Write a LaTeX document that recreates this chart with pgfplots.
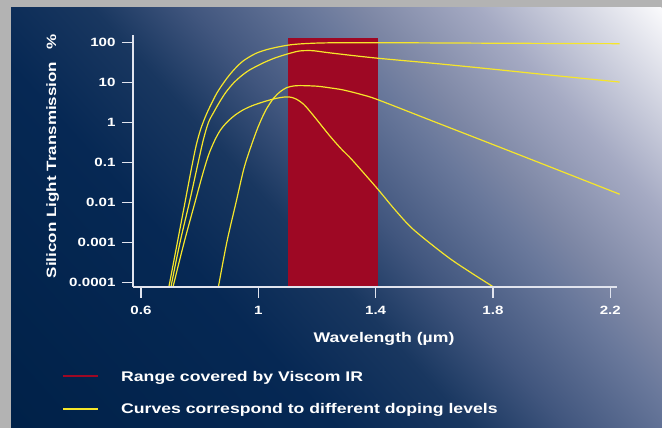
\documentclass[border=0pt]{standalone}
\usepackage{fontspec}
\setmainfont{Liberation Sans}[FakeStretch=1.26]
\usepackage{pgfplots}
\pgfplotsset{compat=1.18}

\definecolor{graybd}{RGB}{179,179,179}
\definecolor{bgA}{RGB}{0,33,72}
\definecolor{bgB}{RGB}{6,40,84}
\definecolor{bgC}{RGB}{25,55,96}
\definecolor{bgI}{RGB}{65,86,126}
\definecolor{bgE}{RGB}{105,120,155}
\definecolor{bgF}{RGB}{125,135,165}
\definecolor{bgG}{RGB}{165,170,195}
\definecolor{bgH}{RGB}{250,250,252}
\definecolor{viscomred}{RGB}{158,8,36}
\definecolor{curveyellow}{RGB}{246,230,42}
\definecolor{axiscol}{RGB}{225,228,238}

\pgfdeclarehorizontalshading{bgshade}{100bp}{color(0bp)=(bgA); color(25bp)=(bgA); color(40.8bp)=(bgB); color(47.35bp)=(bgC); color(52.06bp)=(bgI); color(57.8bp)=(bgE); color(60.4bp)=(bgF); color(66bp)=(bgG); color(75bp)=(bgH); color(100bp)=(bgH)}

\begin{document}
\begin{tikzpicture}
\useasboundingbox (0bp,0bp) rectangle (662bp,428bp);
\fill[graybd] (0bp,0bp) rectangle (662bp,428bp);
\begin{scope}
\clip (11bp,0bp) rectangle (662bp,420bp);
\begin{scope}[transform canvas={rotate around={42:(336.5bp,210bp)}}]
\shade[shading=bgshade] (-45.8bp,-170bp) rectangle (718.8bp,590bp);
\end{scope}
\end{scope}

\begin{axis}[
  at={(133bp,141bp)}, anchor=south west,
  scale only axis, width=484bp, height=252.3bp,
  xmin=0.5727, xmax=2.2229,
  ymode=log, ymin=7.67e-5, ymax=155.8,
  axis x line*=bottom, axis y line*=left,
  axis line style={line width=1.3bp, color=axiscol},
  every tick/.style={line width=1.3bp, color=axiscol},
  tick align=outside, major tick length=11bp,
  xtick={0.6,1,1.4,1.8,2.2}, xticklabels={0.6,1,1.4,1.8,2.2},
  ytick={1e-4,1e-3,0.01,0.1,1,10,100},
  yticklabels={0.0001,0.001,0.01,0.1,1,10,100},
  yminorticks=false, xminorticks=false,
  tick label style={font=\fontsize{12bp}{14bp}\selectfont\bfseries, text=white},
  xticklabel style={yshift=-5bp},
  yticklabel style={xshift=-3bp},
  clip=false, axis on top,
]
\addplot[draw=none, fill=viscomred] coordinates {(1.1017,7.67e-5) (1.1017,131) (1.409,131) (1.409,7.67e-5)} -- cycle;

% curve A
\addplot[curveyellow, line width=1.2bp, smooth] coordinates {
(0.695,7.67e-5) (0.724,0.001) (0.750,0.01) (0.772,0.0708) (0.788,0.263) (0.803,0.661) (0.82,1.413) (0.8355,2.512) (0.86,5.62) (0.8925,12.59) (0.92,21.9) (0.949,34.7) (0.99,52.5) (1.029,66.1) (1.07,77.6) (1.11,87.1) (1.16,93.3) (1.25,97.7) (1.5,97.7) (1.8,95.5) (2.232,92.9)};
% curve B
\addplot[curveyellow, line width=1.2bp, smooth] coordinates {
(0.702,7.67e-5) (0.733,0.001) (0.765,0.01) (0.792,0.0794) (0.812,0.355) (0.83,1) (0.85,1.905) (0.8696,3.39) (0.89,5.75) (0.915,9.55) (0.94,14.1) (0.97,20.4) (1.0174,30.9) (1.06,41.7) (1.1085,53.7) (1.14,61.0) (1.165,62.4) (1.19,61.7) (1.248,54.3) (1.4,40.7) (1.6,29.9) (1.8,21.4) (2.0,15.1) (2.232,10.2)};
% curve C
\addplot[curveyellow, line width=1.2bp, smooth] coordinates {
(0.709,7.67e-5) (0.747,0.001) (0.784,0.01) (0.81,0.0501) (0.83,0.151) (0.85,0.339) (0.87,0.631) (0.8925,1.0) (0.92,1.51) (0.95,2.09) (0.98,2.63) (1.02,3.31) (1.06,3.98) (1.09,4.315) (1.11,4.27) (1.13,3.80) (1.155,2.82) (1.188,1.479) (1.245,0.447) (1.285,0.209) (1.32,0.115) (1.404,0.0229) (1.4665,0.00646) (1.529,0.00209) (1.643,0.000447) (1.7225,0.000180) (1.802,7.67e-5)};
% curve D
\addplot[curveyellow, line width=1.2bp, smooth] coordinates {
(0.8638,7.67e-5) (0.8925,0.001) (0.924,0.01) (0.951,0.0708) (0.975,0.251) (1.0,0.794) (1.025,1.995) (1.0515,3.98) (1.075,5.89) (1.097,7.41) (1.12,8.13) (1.143,8.32) (1.2,8.04) (1.248,7.24) (1.29,6.46) (1.35,5.01) (1.4076,3.69) (1.6,1.04) (1.817,0.25) (2.0,0.0746) (2.232,0.016)};
\end{axis}

\node[rotate=90, anchor=base, inner sep=0pt, text=white, font=\fontsize{13.5bp}{16bp}\selectfont\bfseries] at (56bp,271.5bp) {Silicon Light Transmission\hspace{7bp} \%};
\node[anchor=base, inner sep=0pt, text=white, font=\fontsize{14bp}{16bp}\selectfont\bfseries] at (384bp,85.3bp) {Wavelength (µm)};

\draw[viscomred, line width=2bp] (63.3bp,52bp) -- (98.3bp,52bp);
\node[anchor=base west, inner sep=0pt, text=white, font=\fontsize{14bp}{16bp}\selectfont\bfseries] at (121bp,46.3bp) {Range covered by Viscom IR};
\draw[curveyellow, line width=2.5bp] (63.3bp,19bp) -- (98.3bp,19bp);
\node[anchor=base west, inner sep=0pt, text=white, font=\fontsize{14bp}{16bp}\selectfont\bfseries] at (121bp,14.7bp) {Curves correspond to different doping levels};
\end{tikzpicture}
\end{document}
